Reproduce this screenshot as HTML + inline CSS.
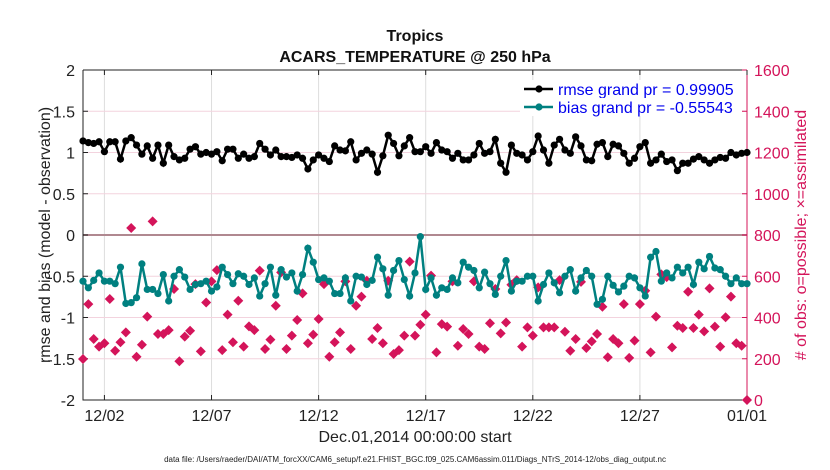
<!DOCTYPE html>
<html><head><meta charset="utf-8"><style>
body{margin:0;background:#fff;}
svg{display:block;font-family:"Liberation Sans",sans-serif;}
</style></head><body>
<svg id="chart" width="830" height="470"></svg>
<script>
const rmse=[1.14,1.12,1.11,1.13,1.01,1.13,1.13,0.92,1.14,1.18,1.09,0.98,1.08,0.93,1.09,0.87,1.09,0.95,0.91,0.93,1.04,1.07,0.98,1.0,0.98,1.01,0.90,1.04,1.04,0.93,0.98,0.93,0.95,1.11,1.04,0.97,1.03,0.95,0.95,0.94,0.97,0.93,0.80,0.91,
0.97,0.93,0.89,1.08,1.03,1.02,1.13,0.91,0.99,1.03,0.98,0.76,0.96,1.21,1.11,0.96,1.08,1.18,1.01,1.01,1.07,0.99,1.12,1.03,1.01,0.93,0.99,0.91,0.91,0.97,1.11,0.99,1.01,1.16,0.87,0.76,1.09,0.99,0.97,0.91,1.01,1.2,
1.03,0.87,1.09,1.16,1.03,0.99,1.19,1.08,0.91,0.90,1.10,1.12,0.95,1.10,1.08,0.99,0.87,0.93,1.07,1.12,0.87,0.91,0.98,0.89,0.91,0.78,0.87,0.87,0.92,0.95,0.91,0.87,0.91,0.94,0.93,1.0,0.97,0.99,1.0];
const bias=[-0.56,-0.64,-0.55,-0.46,-0.56,-0.56,-0.59,-0.39,-0.83,-0.82,-0.76,-0.35,-0.66,-0.66,-0.71,-0.48,-0.80,-0.50,-0.42,-0.51,-0.66,-0.60,-0.59,-0.56,-0.68,-0.63,-0.39,-0.48,-0.59,-0.47,-0.50,-0.60,-0.52,-0.74,-0.59,-0.39,-0.73,-0.42,-0.51,-0.46,-0.68,-0.48,-0.16,-0.33,
-0.54,-0.52,-0.56,-0.71,-0.71,-0.52,-0.80,-0.50,-0.51,-0.60,-0.55,-0.27,-0.41,-0.73,-0.43,-0.31,-0.54,-0.74,-0.46,-0.02,-0.66,-0.52,-0.73,-0.64,-0.66,-0.52,-0.58,-0.33,-0.39,-0.43,-0.64,-0.45,-0.59,-0.72,-0.50,-0.31,-0.68,-0.56,-0.56,-0.50,-0.50,-0.80,
-0.60,-0.46,-0.58,-0.70,-0.50,-0.42,-0.68,-0.52,-0.43,-0.50,-0.84,-0.78,-0.50,-0.61,-0.69,-0.62,-0.50,-0.52,-0.64,-0.74,-0.27,-0.20,-0.56,-0.46,-0.52,-0.39,-0.46,-0.39,-0.60,-0.33,-0.41,-0.26,-0.40,-0.42,-0.50,-0.59,-0.52,-0.59,-0.59];
const nobs=[199,465,296,259,275,490,239,280,328,834,210,268,404,866,320,320,339,538,188,307,336,562,236,473,575,630,242,414,280,481,259,357,339,627,247,293,457,619,247,312,388,517,275,317,
393,562,210,280,328,575,247,457,501,578,296,349,275,578,223,242,312,671,312,365,414,603,231,368,356,575,263,344,320,575,259,247,372,538,323,376,559,581,259,352,312,546,
352,352,352,581,331,239,296,573,252,284,320,452,207,296,275,465,204,288,465,530,231,404,609,596,255,360,349,525,349,414,333,541,356,259,401,501,275,263,0];
const leftTicks=[-2,-1.5,-1,-0.5,0,0.5,1,1.5,2];
const rightTicks=[0,200,400,600,800,1000,1200,1400,1600];
const dateTicks=[1,6,11,16,21,26,31];
const dateLabels=["12/02","12/07","12/12","12/17","12/22","12/27","01/01"];
const X0=83,X1=747,Y0=400,Y1=70,STEP=0.25;
const xs=d=>X0+(d/31)*(X1-X0);
const yl=v=>Y0-(v+2)/4*(Y0-Y1);
const yr=v=>Y0-v/1600*(Y0-Y1);
const NS="http://www.w3.org/2000/svg";
const svg=document.getElementById('chart');
function mk(tag,attrs,parent){const e=document.createElementNS(NS,tag);for(const k in attrs)e.setAttribute(k,attrs[k]);(parent||svg).appendChild(e);return e;}
const RED="#d4145a",TEAL="#008080";
mk('rect',{x:X0,y:Y1,width:X1-X0,height:Y0-Y1,fill:'#fff'});
// grid
dateTicks.forEach(d=>{const l=mk('line',{x1:xs(d),x2:xs(d),y1:Y1,y2:Y0,stroke:'#ddd','stroke-width':1});

});
leftTicks.forEach(v=>{if(v===-2||v===2)return;const l=mk('line',{x1:X0,x2:X1,y1:yl(v),y2:yl(v),stroke:v===0?'#b08890':'#f3d3de','stroke-width':v===0?2:1});

});
// axes
const ax=mk('path',{d:`M${X0},${Y1}V${Y0}H${X1}`,stroke:'#222',fill:'none','stroke-width':1});


mk('line',{x1:X0,x2:X1,y1:Y1,y2:Y1,stroke:'#222','stroke-width':1});
const rax=mk('line',{x1:X1,x2:X1,y1:Y1,y2:Y0,stroke:RED,'stroke-width':1});


leftTicks.forEach(v=>{mk('line',{x1:X0,x2:X0+5,y1:yl(v),y2:yl(v),stroke:'#222'});
const t=mk('text',{x:X0-8,y:yl(v)+6,'text-anchor':'end','font-size':16,fill:'#222'});t.textContent=String(v);

});
rightTicks.forEach(v=>{mk('line',{x1:X1-5,x2:X1,y1:yr(v),y2:yr(v),stroke:RED});
const t=mk('text',{x:X1+7,y:yr(v)+6,'font-size':16,fill:RED});t.textContent=String(v);

});
dateTicks.forEach((d,i)=>{mk('line',{x1:xs(d),x2:xs(d),y1:Y0,y2:Y0-5,stroke:'#222'});mk('line',{x1:xs(d),x2:xs(d),y1:Y1,y2:Y1+5,stroke:'#222'});
const t=mk('text',{x:xs(d),y:Y0+21,'text-anchor':'middle','font-size':16,fill:'#222'});t.textContent=dateLabels[i];

});
// obs count
nobs.forEach((v,i)=>{const x=xs(i*STEP),y=yr(v);const p=mk('path',{d:`M${x-5},${y}L${x},${y-5}L${x+5},${y}L${x},${y+5}Z`,fill:RED});

});
function series(arr,col,name){
const pl=mk('polyline',{points:arr.map((v,i)=>xs(i*STEP)+','+yl(v)).join(' '),fill:'none',stroke:col,'stroke-width':2.5});


arr.forEach((v,i)=>{const c=mk('circle',{cx:xs(i*STEP),cy:yl(v),r:3.6,fill:col});

});}
series(bias,TEAL,'bias');
series(rmse,'#000','rmse');
// legend
const lg=mk('g',{});


[['#000','rmse grand pr = 0.99905',89],[TEAL,'bias grand pr = -0.55543',107]].forEach(([c,txt,y])=>{
mk('rect',{x:520,y:y-9,width:222,height:18,fill:'#fff'},lg);
mk('line',{x1:524,x2:553,y1:y,y2:y,stroke:c,'stroke-width':2.5},lg);
mk('circle',{cx:539,cy:y,r:3.6,fill:c},lg);
const t=mk('text',{x:558,y:y+6,'font-size':16,fill:'#0000ee'},lg);t.textContent=txt;

});
// titles
function txt(s,a,name){const t=mk('text',a);t.textContent=s;

return t;}
txt('Tropics',{x:415,y:41,'text-anchor':'middle','font-size':16,'font-weight':'bold',fill:'#111'},'chart-title');
txt('ACARS_TEMPERATURE @ 250 hPa',{x:415,y:62,'text-anchor':'middle','font-size':16,'font-weight':'bold',fill:'#111'},'chart-subtitle');
txt('rmse and bias (model - observation)',{x:0,y:0,transform:'translate(50,235) rotate(-90)','text-anchor':'middle','font-size':16,fill:'#222'},'left-axis-title');
txt('# of obs: o=possible; \u00d7=assimilated',{x:0,y:0,transform:'translate(806,235) rotate(-90)','text-anchor':'middle','font-size':16,fill:RED},'right-axis-title');
txt('Dec.01,2014 00:00:00 start',{x:415,y:442,'text-anchor':'middle','font-size':16,fill:'#222'},'x-axis-title');
txt('data file: /Users/raeder/DAI/ATM_forcXX/CAM6_setup/f.e21.FHIST_BGC.f09_025.CAM6assim.011/Diags_NTrS_2014-12/obs_diag_output.nc',{x:415,y:462,'text-anchor':'middle','font-size':8,fill:'#222'},'data-file-note');
</script>
</body></html>
